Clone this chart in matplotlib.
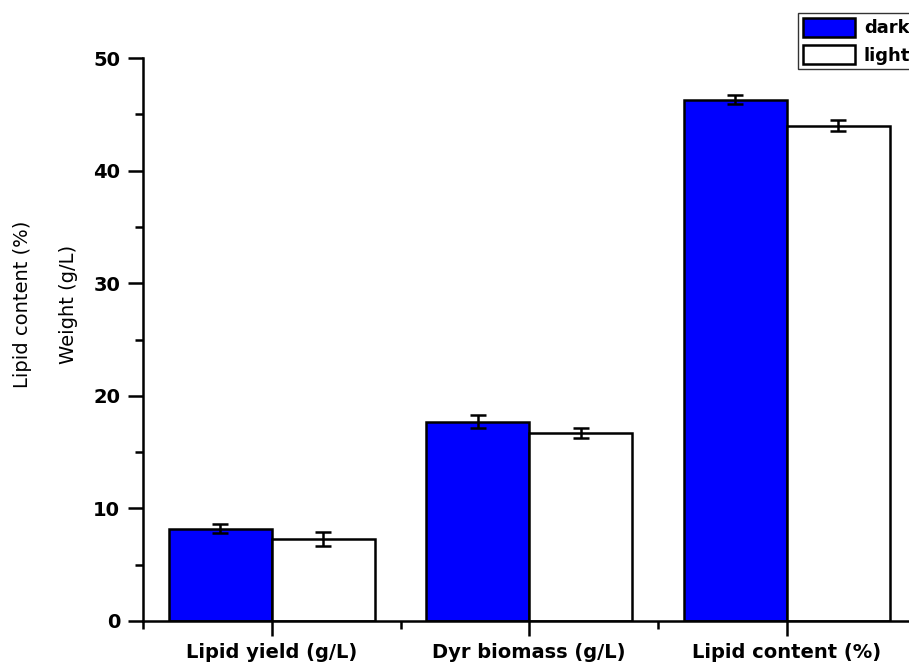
import matplotlib.pyplot as plt
import numpy as np

plt.rcParams['font.family'] = ['DejaVu Sans', 'Liberation Sans']

categories = ["Lipid yield (g/L)", "Dyr biomass (g/L)", "Lipid content (%)"]
dark = [8.2, 17.7, 46.3]
dark_err = [0.4, 0.6, 0.4]
light = [7.3, 16.7, 44.0]
light_err = [0.6, 0.45, 0.45]

x = np.arange(1, len(categories) + 1)
w = 0.4

fig = plt.figure(figsize=(9.09, 6.69), dpi=100)
ax = fig.add_axes([143 / 909, 48 / 669, 772.5 / 909, 563 / 669])

err_kw = dict(ecolor='black', elinewidth=1.8, capsize=6, capthick=1.8)
ax.bar(x - w / 2, dark, w, yerr=dark_err, color='#0000ff', edgecolor='black',
       linewidth=1.8, label='dark', error_kw=err_kw)
ax.bar(x + w / 2, light, w, yerr=light_err, color='white', edgecolor='black',
       linewidth=1.8, label='light', error_kw=err_kw)

ax.set_xlim(0.5, 3.5)
ax.set_ylim(0, 50)
ax.set_xticks(x)
ax.set_xticklabels(categories, fontsize=14, fontweight='bold')
ax.set_xticks([0.5, 1.5, 2.5, 3.5], minor=True)
ax.set_yticks(range(0, 51, 10))
ax.set_yticks(range(5, 50, 10), minor=True)
for lab in ax.get_yticklabels():
    lab.set_fontweight('bold')
    lab.set_fontsize(14)

ax.tick_params(which='major', length=10.5, width=1.8, direction='out')
ax.tick_params(which='minor', length=5.5, width=1.8, direction='out')
ax.tick_params(axis='x', pad=5)
ax.tick_params(axis='y', pad=6)
ax.spines['top'].set_visible(False)
ax.spines['right'].set_visible(False)
for s in ('left', 'bottom'):
    ax.spines[s].set_linewidth(1.8)

# two-line y label, lines spaced wide like the original
ylab_y = 1 - 304 / 669
fig.text(23 / 909, ylab_y, "Lipid content (%)", rotation=90, fontsize=14,
         ha='center', va='center')
fig.text(68 / 909, ylab_y, "Weight (g/L)", rotation=90, fontsize=14,
         ha='center', va='center')

fig.legend(loc='upper left', bbox_to_anchor=(798 / 909, 1 - 13 / 669),
           prop={'weight': 'bold', 'size': 13}, frameon=True, fancybox=False,
           edgecolor='black', handlelength=2.9, handleheight=1.3,
           borderpad=0.25, labelspacing=0.4, handletextpad=0.5, borderaxespad=0)

fig.savefig('out.png', dpi=100)
